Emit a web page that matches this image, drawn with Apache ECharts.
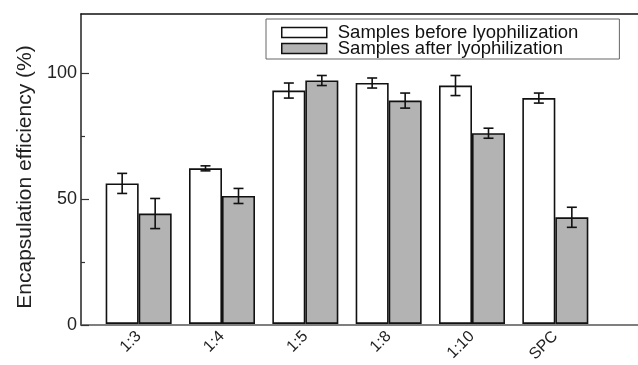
<!DOCTYPE html>
<html><head><meta charset="utf-8">
<script src="https://cdn.jsdelivr.net/npm/echarts@6/dist/echarts.min.js"></script>
<style>html,body{margin:0;padding:0;background:#fff}#c{width:638px;height:365px}</style>
</head><body><div id="c"></div>
<script>
const categories = ['1:3', '1:4', '1:5', '1:8', '1:10', 'SPC'];
const seriesNames = ['Samples before lyophilization', 'Samples after lyophilization'];
const beforeVals = [56, 62, 93, 96, 95, 90];
const beforeErr = [4, 1, 3, 2, 4, 2];
const afterVals = [44, 51, 97, 89, 76, 42.5];
const afterErr = [6, 3, 2, 3, 2, 4];
const majorTicks = [0, 50, 100];
const minorTicks = [25, 75];

const Y_MAX = 123.5;
const BAR_W = 33;
const FONT = '"Liberation Sans", Arial, sans-serif';

const chart = echarts.init(document.getElementById('c'));

function errItem(offsetSign) {
  return function (params, api) {
    const i = api.value(0);
    const v = api.value(1);
    const e = api.value(2);
    const top = api.coord([i, v + e]);
    const bot = api.coord([i, v - e]);
    const x = top[0] + offsetSign * BAR_W / 2;
    const cap = 5;
    const st = { stroke: '#111', lineWidth: 1.6 };
    return {
      type: 'group',
      children: [
        { type: 'line', shape: { x1: x, y1: top[1], x2: x, y2: bot[1] }, style: st },
        { type: 'line', shape: { x1: x - cap, y1: top[1], x2: x + cap, y2: top[1] }, style: st },
        { type: 'line', shape: { x1: x - cap, y1: bot[1], x2: x + cap, y2: bot[1] }, style: st }
      ]
    };
  };
}

const option = {
  backgroundColor: '#fff',
  animation: false,
  textStyle: { fontFamily: FONT },
  grid: [
    { left: 81, right: 0, top: 14, bottom: 40 },
    { left: 97, right: 41, top: 14, bottom: 40 }
  ],
  legend: {
    orient: 'vertical',
    left: 266, top: 19,
    padding: [4, 41, 1, 15],
    itemGap: -3,
    icon: 'rect',
    itemWidth: 45, itemHeight: 10,
    borderColor: '#666', borderWidth: 1,
    itemStyle: { borderColor: '#111', borderWidth: 1.5 },
    textStyle: { fontSize: 18.5, color: '#111', fontFamily: FONT, lineHeight: 16, padding: [0, 0, 0, 6] },
    data: seriesNames
  },
  xAxis: [
    { gridIndex: 0, type: 'value', min: 0, max: 1, position: 'bottom',
      axisLine: { show: true, onZero: false, lineStyle: { color: '#555', width: 1.5 } },
      axisTick: { show: false }, axisLabel: { show: false }, splitLine: { show: false } },
    { gridIndex: 0, type: 'value', min: 0, max: 1, position: 'top',
      axisLine: { show: true, onZero: false, lineStyle: { color: '#111', width: 1.5 } },
      axisTick: { show: false }, axisLabel: { show: false }, splitLine: { show: false } },
    { gridIndex: 1, type: 'category', data: categories,
      axisLine: { show: false }, axisTick: { show: false },
      axisLabel: { rotate: 45, fontSize: 16, color: '#222', margin: 10, fontFamily: FONT },
      splitLine: { show: false } }
  ],
  yAxis: [
    { gridIndex: 0, type: 'value', min: 0, max: Y_MAX,
      name: 'Encapsulation efficiency (%)', nameLocation: 'middle', nameGap: 45,
      nameTextStyle: { fontSize: 21, color: '#222', fontFamily: FONT, padding: [0, 15, 0, 0] },
      axisLine: { show: true, onZero: false, lineStyle: { color: '#222', width: 1.5 } },
      axisTick: { show: true, inside: true, length: 8, customValues: majorTicks, lineStyle: { color: '#333', width: 1.2 } },
      axisLabel: { fontSize: 18, color: '#222', margin: 4, customValues: majorTicks, fontFamily: FONT },
      splitLine: { show: false } },
    { gridIndex: 0, type: 'value', min: 0, max: Y_MAX, position: 'left',
      axisLine: { show: false },
      axisTick: { show: true, inside: true, length: 4, customValues: minorTicks, lineStyle: { color: '#333', width: 1.2 } },
      axisLabel: { show: false }, splitLine: { show: false } },
    { gridIndex: 1, type: 'value', min: 0, max: Y_MAX, show: false }
  ],
  series: [
    { name: seriesNames[0], type: 'bar', xAxisIndex: 2, yAxisIndex: 2,
      barWidth: BAR_W, barGap: '0%', data: beforeVals,
      itemStyle: { color: '#fff', borderColor: '#111', borderWidth: 1.6 } },
    { name: seriesNames[1], type: 'bar', xAxisIndex: 2, yAxisIndex: 2,
      barWidth: BAR_W, barGap: '0%', data: afterVals,
      itemStyle: { color: '#b3b3b3', borderColor: '#111', borderWidth: 1.6 } },
    { type: 'custom', xAxisIndex: 2, yAxisIndex: 2, z: 5,
      renderItem: errItem(-1),
      data: categories.map((c, i) => [i, beforeVals[i], beforeErr[i]]) },
    { type: 'custom', xAxisIndex: 2, yAxisIndex: 2, z: 5,
      renderItem: errItem(1),
      data: categories.map((c, i) => [i, afterVals[i], afterErr[i]]) }
  ]
};
chart.setOption(option);
</script></body></html>
